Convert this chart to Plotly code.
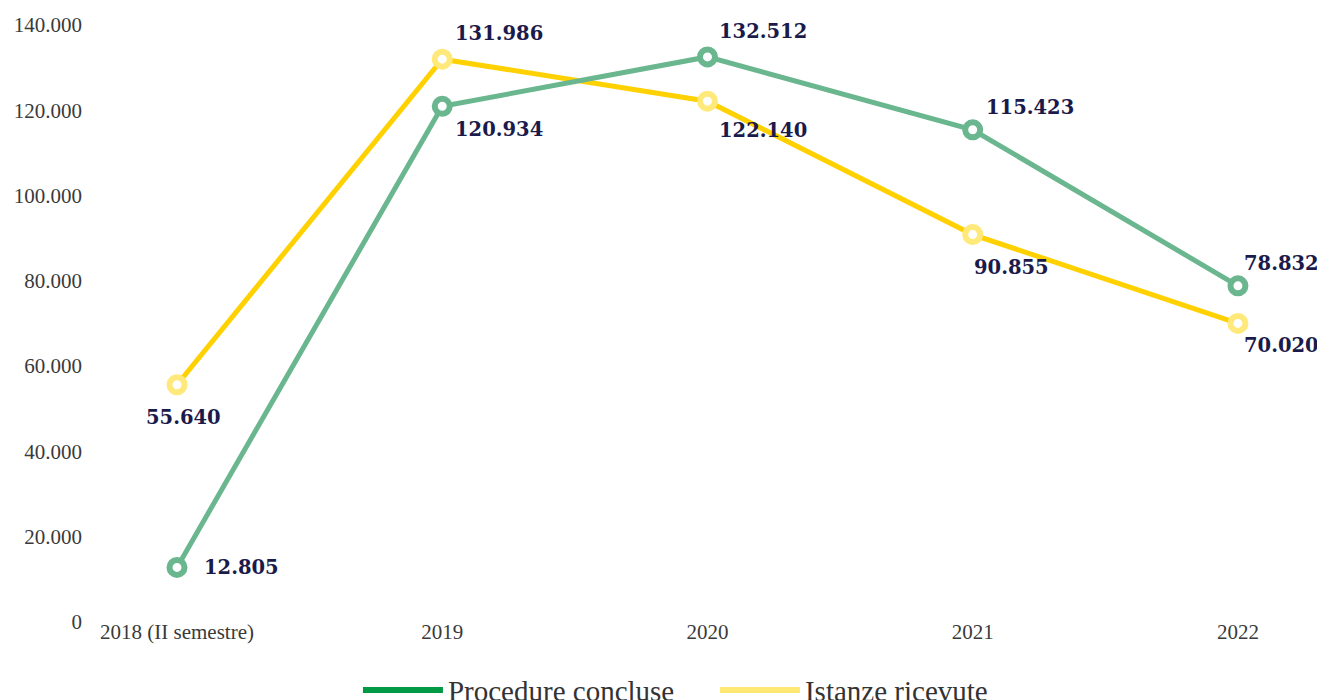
import plotly.graph_objects as go

categories = ["2018 (II semestre)", "2019", "2020", "2021", "2022"]
procedure_concluse = [12805, 120934, 132512, 115423, 78832]
istanze_ricevute = [55640, 131986, 122140, 90855, 70020]
y_ticks = [0, 20000, 40000, 60000, 80000, 100000, 120000, 140000]

# label placement styles (pixel offsets from each point)
green_lbl = [("left", 25, 0), ("left", 11, -23), ("left", 10, 25), ("left", 11, 22), ("left", 4, 22)]
yellow_lbl = [("center", 6, -33), ("left", 11, 26), ("left", 10, -29), ("left", -1, -33), ("left", 4, -22)]

GREEN = "#6ab68e"
YELLOW = "#ffd100"
YELLOW_MK = "#ffe97a"
LABEL_COLOR = "#1b1b4b"


def fmt(v):
    return f"{v:,}".replace(",", ".")


fig = go.Figure()

fig.add_trace(go.Scatter(
    x=categories, y=istanze_ricevute, mode="lines+markers",
    line=dict(color=YELLOW, width=5),
    marker=dict(size=15, color="white", line=dict(color=YELLOW_MK, width=6)),
    showlegend=False, cliponaxis=False, hoverinfo="x+y",
))
fig.add_trace(go.Scatter(
    x=categories, y=procedure_concluse, mode="lines+markers",
    line=dict(color=GREEN, width=5),
    marker=dict(size=15, color="white", line=dict(color=GREEN, width=6)),
    showlegend=False, cliponaxis=False, hoverinfo="x+y",
))

# legend entries (legend colours differ from the plotted lines)
fig.add_trace(go.Scatter(x=[None], y=[None], mode="lines", name="Procedure concluse",
                         line=dict(color="#009a44", width=6)))
fig.add_trace(go.Scatter(x=[None], y=[None], mode="lines", name="Istanze ricevute",
                         line=dict(color="#ffe873", width=6)))

label_font = dict(family="DejaVu Serif", size=19.5, color=LABEL_COLOR, weight="bold")
for series, styles in ((procedure_concluse, green_lbl), (istanze_ricevute, yellow_lbl)):
    for idx, (val, (anchor, dx, dy)) in enumerate(zip(series, styles)):
        fig.add_annotation(x=idx, y=val, text=fmt(val), showarrow=False,
                           xanchor=anchor, yanchor="middle", xshift=dx, yshift=dy,
                           font=label_font)

fig.update_layout(
    width=1309, height=692,
    margin=dict(l=82, r=4, t=17, b=78, autoexpand=False),
    paper_bgcolor="white", plot_bgcolor="white",
    separators=",.",
    font=dict(family="Liberation Serif", size=21, color="#3a3a3a"),
    showlegend=True,
    legend=dict(orientation="h", x=0.511, xanchor="center", y=-0.114, yanchor="middle",
                font=dict(family="Liberation Serif", size=29, color="#333333"),
                itemwidth=80, entrywidth=262, entrywidthmode="pixels", tracegroupgap=0),
    xaxis=dict(type="category", range=[-0.328, 4.283], showgrid=False, zeroline=False,
               showline=False, ticks="", tickfont=dict(size=21), ticklabelstandoff=-5),
    yaxis=dict(range=[0, 140000], tickvals=y_ticks, tickformat=",d", showgrid=False,
               zeroline=False, showline=False, ticks="", tickfont=dict(size=21),
               ticklabelstandoff=7),
)

fig.write_html("out.html")
